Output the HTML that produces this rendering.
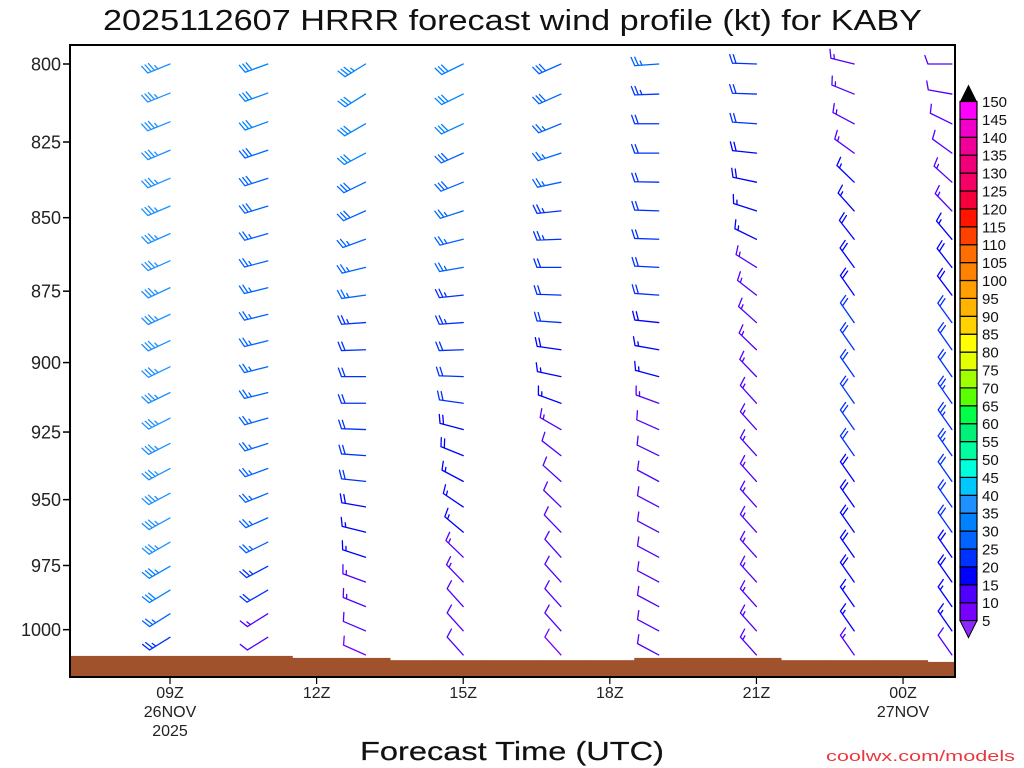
<!DOCTYPE html>
<html><head><meta charset="utf-8"><style>
html,body{margin:0;padding:0;background:#fff;}
svg{display:block;font-family:"Liberation Sans",sans-serif;}
</style></head><body>
<svg id="chart" width="1024" height="768" viewBox="0 0 1024 768" xmlns="http://www.w3.org/2000/svg">
<defs><clipPath id="pc"><rect x="70" y="45" width="885" height="632"/></clipPath></defs>
<rect width="1024" height="768" fill="#fff"/>
<text x="103" y="30" font-size="29" fill="#111" textLength="819" lengthAdjust="spacingAndGlyphs">2025112607 HRRR forecast wind profile (kt) for KABY</text>
<g id="terrain" clip-path="url(#pc)"></g>
<g id="barbs" clip-path="url(#pc)"></g>
<rect x="70" y="45" width="885" height="632" fill="none" stroke="#000" stroke-width="2"/>
<g id="yaxis"></g>
<g id="xaxis"></g>
<g id="cbar"></g>
<text x="360" y="760" font-size="26" fill="#111" textLength="304" lengthAdjust="spacingAndGlyphs" stroke="#111" stroke-width="0.2">Forecast Time (UTC)</text>
<text x="826" y="761" font-size="15" fill="#e8383d" textLength="189" lengthAdjust="spacingAndGlyphs">coolwx.com/models</text>
</svg>
<script>
const NS="http://www.w3.org/2000/svg";
const yTicks=[800,825,850,875,900,925,950,975,1000];
const xTickHours=[9,12,15,18,21,24];
const xTickLabels=[["09Z","26NOV","2025"],["12Z"],["15Z"],["18Z"],["21Z"],["00Z","27NOV"]];
const barbHours=[9,11,13,15,17,19,21,23,25];
const topP=800;
const bottomP=[1003,1003,1010,1010,1010,1010,1010,1010,1010];
const sfcHours=[7,8,9,10,11,12,13,14,15,16,17,18,19,20,21,22,23,24,25,26];
const sfcP=[1010.4,1010.4,1010.4,1010.4,1010.4,1011.2,1011.2,1012.1,1012.1,1012.1,1012.1,1012.1,1011.2,1011.2,1011.2,1012.1,1012.1,1012.1,1012.8,1012.8];
const spd1=[36,36,36,36,36,36,37,37,37,37,37,37,36,36,36,36,36,35,35,34,32,27,24];
const dir1=[248,248,248,247,247,247,246,246,245,245,245,244,244,243,243,242,242,241,240,240,239,238,238];
const spd2=[32,32,31,29,28,28,27,26,25,25,25,25,25,26,27,27,27,27,26,24,20,14,11];
const dir2=[250,250,250,251,252,253,254,255,256,256,256,256,256,254,252,250,248,246,244,242,240,238,238];
const spd3=[33,32,32,30,29,28,27,26,25,23,22,21,21,21,20,20,18,17,15,14,13,11,9];
const dir3=[238,238,240,242,244,246,250,256,262,266,268,270,270,272,274,276,280,284,288,290,292,293,294];
const spd4=[31,30,30,29,28,27,26,25,24,23,22,21,20,19,18,17,16,15,14,13,12,11,10];
const dir4=[244,244,245,246,248,252,256,260,264,266,268,272,278,285,292,298,304,310,314,316,318,318,318];
const spd5=[29,28,27,26,25,24,23,22,21,20,19,17,15,13,12,11,11,11,10,10,10,10,9];
const dir5=[246,246,248,252,258,264,268,270,272,274,278,282,290,300,308,312,314,316,318,318,318,318,318];
const spd6=[25,24,22,21,21,21,20,20,20,19,17,15,13,11,10,10,10,10,10,10,10,10,10];
const dir6=[266,268,270,270,271,272,272,273,274,276,280,285,290,294,296,298,298,298,298,298,298,298,298];
const spd7=[21,20,20,19,18,17,15,14,14,14,14,14,14,14,14,14,14,14,14,14,14,14,13];
const dir7=[272,272,274,276,282,288,296,302,308,312,314,316,318,318,318,318,318,318,318,318,318,318,318];
const spd8=[13,13,14,14,15,16,18,19,19,20,20,20,20,20,20,19,19,19,19,18,17,15,13];
const dir8=[284,292,298,306,314,318,322,324,325,325,325,325,325,325,325,325,325,325,325,325,325,325,325];
const spd9=[10,11,11,12,13,14,16,18,19,20,21,22,23,23,23,22,21,20,19,18,17,15,12];
const dir9=[270,280,296,306,312,316,320,322,323,324,325,325,325,325,325,325,325,325,325,325,325,325,325];
const cbarLabels=[5,10,15,20,25,30,35,40,45,50,55,60,65,70,75,80,85,90,95,100,105,110,115,120,125,130,135,140,145,150];
const cbarColors=["#7800ff","#5000ff","#0000ff","#0032ff","#0064ff","#0082ff","#1e90ff","#00c8ff","#00ffdc","#00ffa0","#00f078","#00ff46","#5aff00","#a0ff00","#e6ff00","#ffff00","#ffd200","#ffb400","#ffa000","#ff8200","#ff6e00","#ff4100","#ff1400","#f5003c","#f50064","#f00078","#f00096","#f000c8","#ff00ff"];
const lowColor="#8c28ff", highColor="#000000";

const speeds=[spd1,spd2,spd3,spd4,spd5,spd6,spd7,spd8,spd9];
const dirs=[dir1,dir2,dir3,dir4,dir5,dir6,dir7,dir8,dir9];
const yP=p=>64+2535*Math.log(p/800);
const xH=h=>170+(h-9)*48.87;
function colorFor(s){const i=Math.floor(s/5);if(i<1)return lowColor;if(i>29)return highColor;return cbarColors[i-1];}
function mk(tag,attrs,parent){const e=document.createElementNS(NS,tag);for(const k in attrs)e.setAttribute(k,attrs[k]);parent.appendChild(e);return e;}

const tg=document.getElementById('terrain');
sfcHours.forEach((h,i)=>{
  const y=yP(sfcP[i]);
  const r=mk('rect',{x:xH(h-0.5),y:y,width:48.87+0.6,height:677-y,fill:'#a0522d'},tg);
  
  
});

const bg=document.getElementById('barbs');
const L=24,F=9,SP=3.6;
barbHours.forEach((h,c)=>{
  const n=speeds[c].length;
  for(let i=0;i<n;i++){
    const p=topP+i*(bottomP[c]-topP)/(n-1);
    const x0=xH(h),y0=yP(p);
    const s=speeds[c][i],th=dirs[c][i]*Math.PI/180;
    const dx=Math.sin(th),dy=-Math.cos(th);
    const nx=-dy,ny=dx;
    const fx=nx*0.94+dx*0.34,fy=ny*0.94+dy*0.34;
    const col=colorFor(s);
    const g=mk('g',{stroke:col,'stroke-width':1.3,fill:'none','stroke-linecap':'round'},bg);
    
    
    const tx=x0+dx*L,ty=y0+dy*L;
    let d=`M${x0},${y0}L${tx},${ty}`;
    let r=Math.round(s/5)*5;
    let full=Math.floor(r/10),half=(r%10)>=5?1:0;
    let k=0;
    for(let j=0;j<full;j++,k++){const bx=tx-dx*SP*k,by=ty-dy*SP*k;d+=`M${bx},${by}l${fx*F},${fy*F}`;}
    if(half){if(k===0)k=1;const bx=tx-dx*SP*k,by=ty-dy*SP*k;d+=`M${bx},${by}l${fx*F/2},${fy*F/2}`;}
    mk('path',{d:d},g);
  }
});

const ya=document.getElementById('yaxis');
yTicks.forEach(p=>{
  const y=yP(p);
  const t=mk('line',{x1:63,x2:70,y1:y,y2:y,stroke:'#000','stroke-width':1.5},ya);
  
  
  const tx=mk('text',{x:61,y:y+6.5,'font-size':18,'text-anchor':'end',fill:'#222'},ya);
  tx.textContent=p;
  
  
});
const xa=document.getElementById('xaxis');
xTickHours.forEach((h,i)=>{
  const x=xH(h);
  const t=mk('line',{x1:x,x2:x,y1:677,y2:684,stroke:'#000','stroke-width':1.2},xa);
  
  
  xTickLabels[i].forEach((lab,j)=>{
    const tx=mk('text',{x:x,y:698+j*19,'font-size':16,'text-anchor':'middle',fill:'#222'},xa);
    tx.textContent=lab;
    
    
  });
});
const cb=document.getElementById('cbar');
const cTop=101.5,cH=17.9,cx=960,cw=17;
cbarColors.forEach((c,i)=>{
  const y=cTop+(cbarColors.length-1-i)*cH;
  const r=mk('rect',{x:cx,y:y,width:cw,height:cH,fill:c,stroke:'#000','stroke-width':1.2},cb);
  
  
});
const bot=cTop+cbarColors.length*cH;
const up=mk('path',{d:`M${cx},${cTop}L${cx+cw/2},${cTop-17}L${cx+cw},${cTop}Z`,fill:highColor},cb);


const dn=mk('path',{d:`M${cx},${bot}L${cx+cw/2},${bot+17}L${cx+cw},${bot}Z`,fill:lowColor,stroke:'#000','stroke-width':1},cb);


cbarLabels.forEach((v,i)=>{
  const y=bot-i*cH;
  const t=mk('text',{x:982,y:y+5.5,'font-size':15,fill:'#111'},cb);
  t.textContent=v;
  
  
});
</script>
</body></html>
